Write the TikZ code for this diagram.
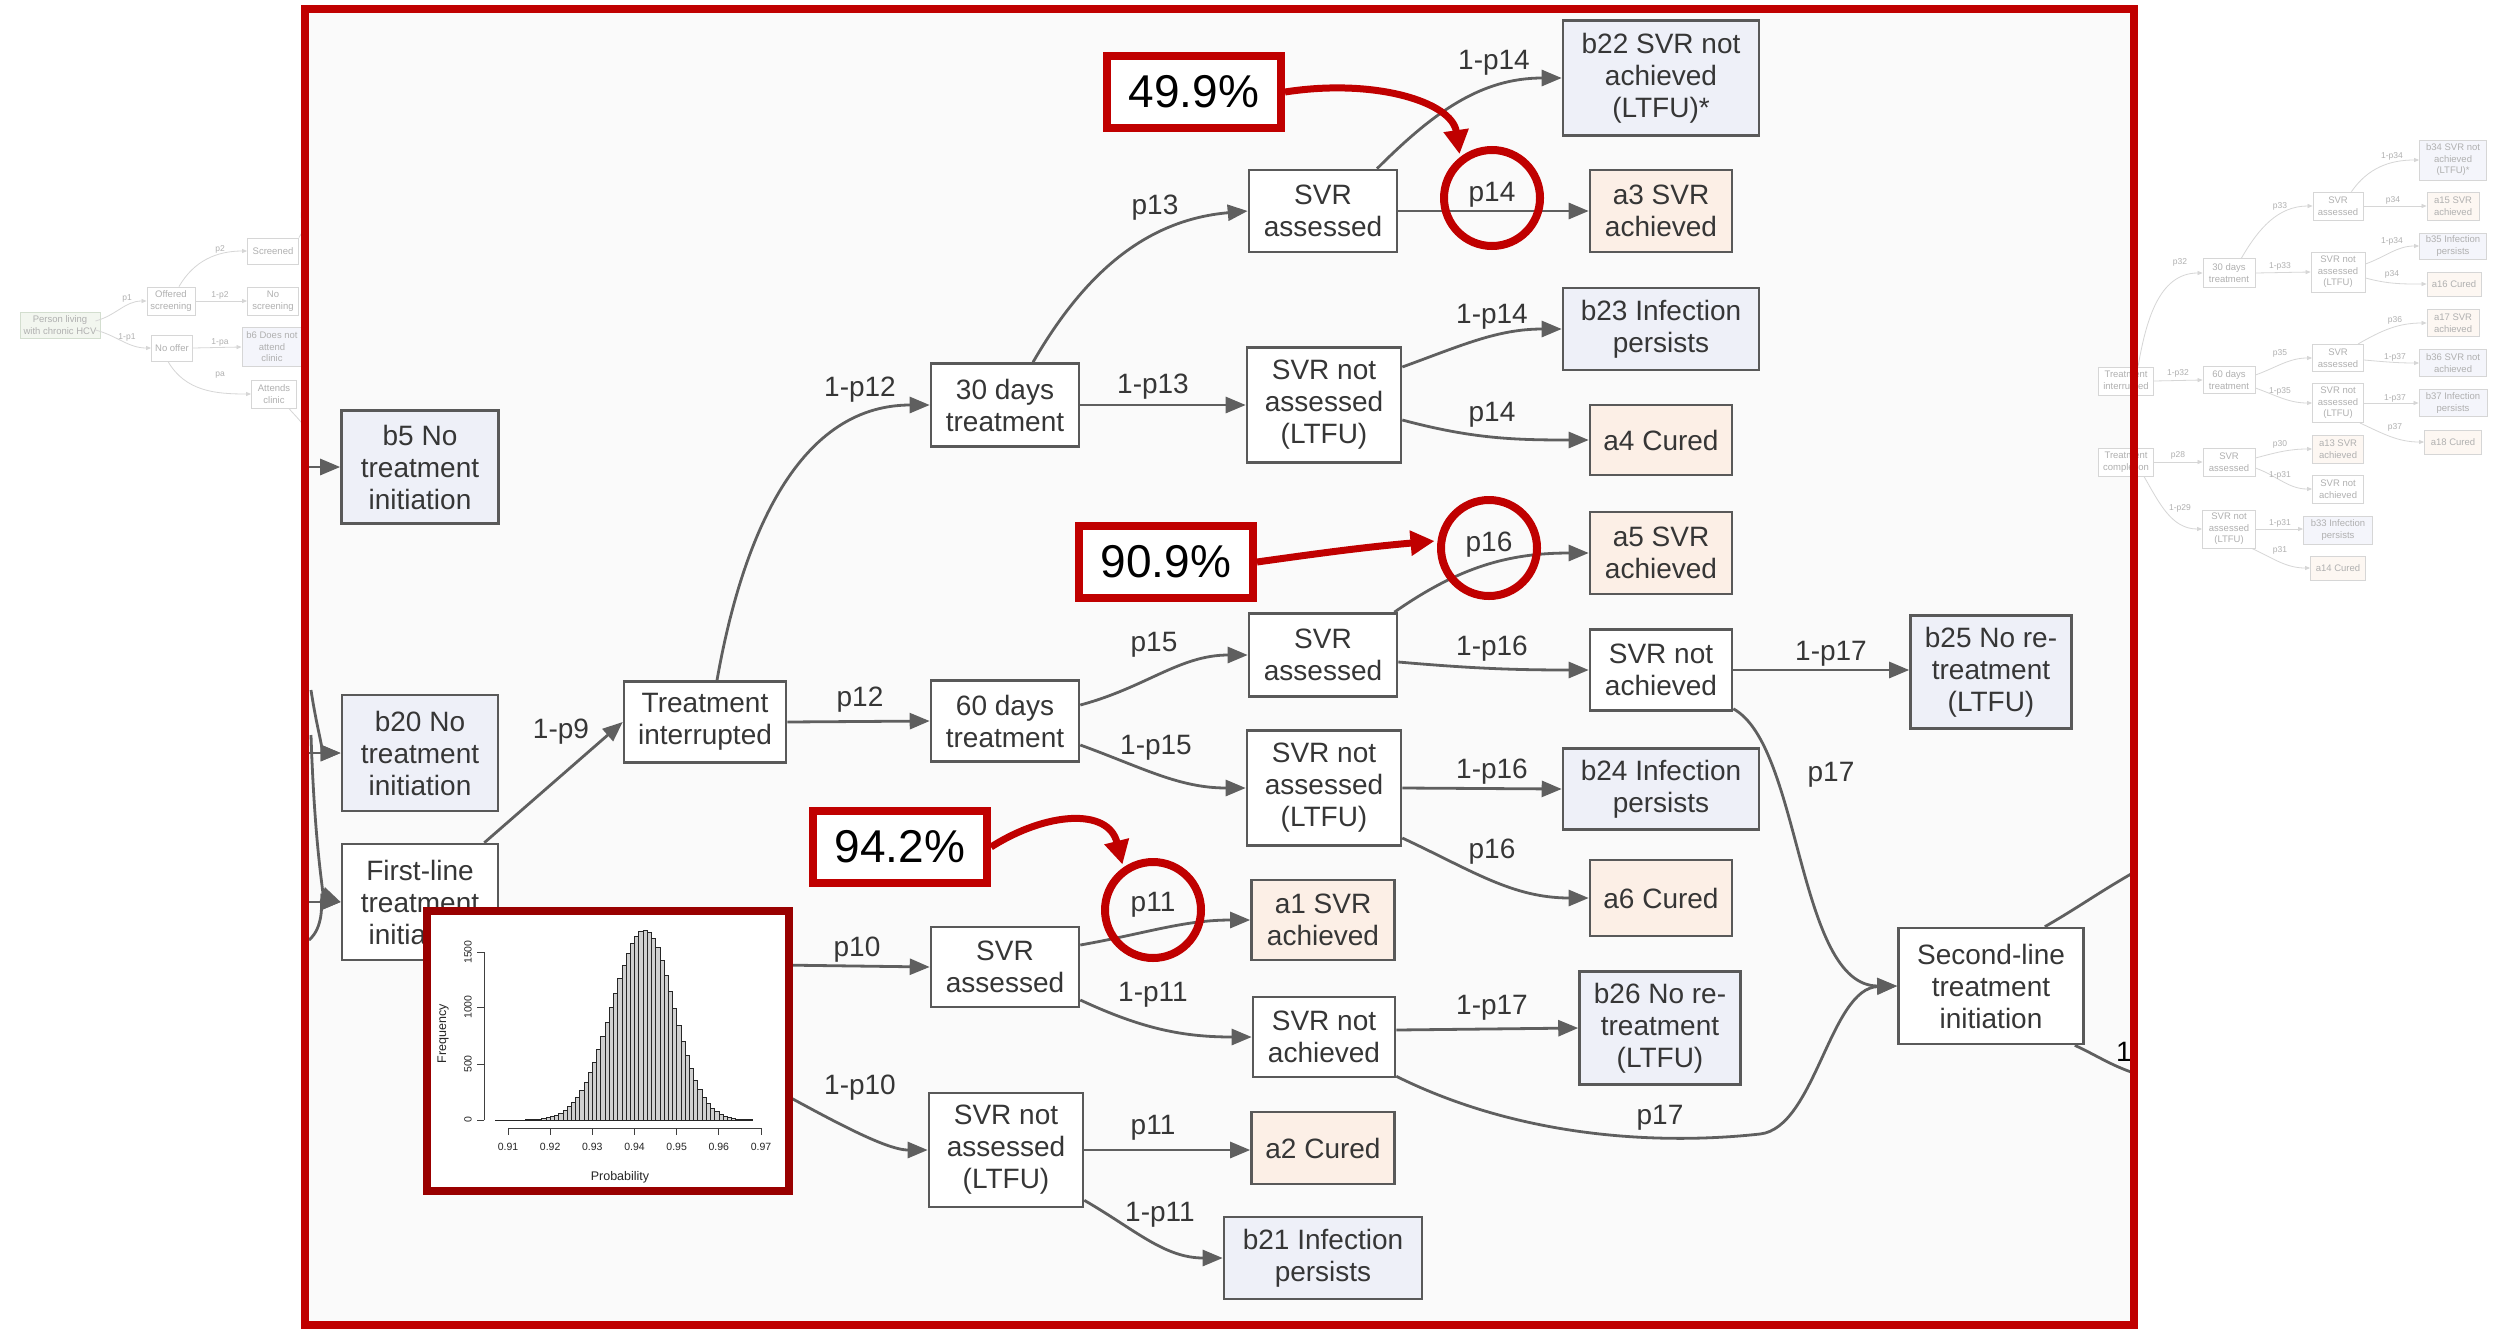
\documentclass[tikz,border=0pt]{standalone}
\usepackage{fontspec}
\setmainfont{Liberation Sans}
\usepackage{tikz}
\usetikzlibrary{arrows.meta,calc,positioning}
\definecolor{focus}{HTML}{C00000}
\definecolor{insetred}{HTML}{990000}
\definecolor{edgegray}{HTML}{5F5F5F}
\definecolor{boxgray}{HTML}{595959}
\definecolor{inkgray}{HTML}{363636}
\definecolor{goodfill}{HTML}{FCEFE6}
\definecolor{badfill}{HTML}{EEF0F8}
\definecolor{paper}{HTML}{FAFAFA}
\definecolor{ghostline}{HTML}{D6D6D6}
\definecolor{ghosttext}{HTML}{B0B0B0}
\definecolor{ghostgood}{HTML}{FDF7F2}
\definecolor{ghostbad}{HTML}{F4F5FB}
\definecolor{ghostroot}{HTML}{F2F6EF}
\definecolor{ghostrootline}{HTML}{D3DECF}
\definecolor{barfill}{HTML}{D0D0D0}

\begin{document}
\begin{tikzpicture}[x=1pt,y=-1pt,
  state/.style={draw=boxgray,line width=2.6pt,fill=white,text=inkgray,align=center,
                font=\fontsize{28}{32}\selectfont,inner sep=2pt},
  good/.style={state,fill=goodfill},
  bad/.style={state,fill=badfill},
  edge/.style={-{Triangle[length=20pt,width=16pt]},line width=2.8pt,edgegray},
  plain/.style={line width=2.8pt,edgegray},
  prob/.style={text=inkgray,font=\fontsize{28}{32}\selectfont,inner sep=0pt},
  hilite/.style={circle,draw=focus,line width=8pt,minimum size=96pt,inner sep=0pt},
  pct/.style={draw=focus,line width=8pt,fill=white,minimum width=174pt,minimum height=72pt,
              font=\fontsize{46}{50}\selectfont,inner sep=0pt},
  pointer/.style={-{Triangle[length=24pt,width=24pt]},line width=7pt,focus,shorten >=3pt},
  ghost/.style={draw=ghostline,line width=0.9pt,fill=white,text=ghosttext,align=center,
                font=\fontsize{9.5}{11.5}\selectfont,inner sep=1pt},
  ghostA/.style={ghost,fill=ghostgood},
  ghostB/.style={ghost,fill=ghostbad},
  gedge/.style={-{Triangle[length=5pt,width=4pt]},line width=0.8pt,ghostline},
  gline/.style={line width=0.8pt,ghostline},
  gprob/.style={text=ghosttext,font=\fontsize{8.5}{10}\selectfont,inner sep=0pt},
  axis/.style={line width=0.9pt,black!75},
  histbar/.style={fill=barfill,draw=black!85,line width=0.6pt},
  ticktext/.style={font=\fontsize{10.5}{12}\selectfont,text=black!85,inner sep=0pt},
  axistitle/.style={font=\fontsize{12.5}{14}\selectfont,text=black!85,inner sep=0pt}
]
\useasboundingbox (0,0) rectangle (2496,1333);
\fill[white] (0,0) rectangle (2496,1333);
\fill[paper] (305,9) rectangle (2134,1325);

% faded overview, left part
\node[ghost,fill=ghostroot,draw=ghostrootline,minimum width=80pt,minimum height=26pt] (person) at (60,325) {Person living\\with chronic HCV};
\node[ghost,minimum width=48pt,minimum height=28pt] (offered) at (171,301) {Offered\\screening};
\node[ghost,minimum width=41pt,minimum height=26pt] (nooffer) at (172,348) {No offer};
\node[ghost,minimum width=51pt,minimum height=26pt] (screened) at (273,251) {Screened};
\node[ghost,minimum width=51pt,minimum height=28pt] (noscreen) at (273,301) {No\\screening};
\node[ghostB,minimum width=60pt,minimum height=39pt] (b6) at (272,347) {b6 Does not\\attend\\clinic};
\node[ghost,minimum width=45pt,minimum height=28pt] (attends) at (274,394) {Attends\\clinic};
\draw[gedge] ($(person.east)+(-5,-4)$) to[out=15,in=180] (offered.west);
\draw[gedge] ($(person.east)+(-5,5)$) to[out=-15,in=180] (nooffer.west);
\draw[gedge] (offered.east) -- (noscreen.west);
\draw[gedge] ([xshift=8pt]offered.north) to[out=60,in=180] (screened.west);
\draw[gedge] (nooffer.east) -- (b6.west);
\draw[gedge] ([xshift=-4pt]nooffer.south) to[out=-60,in=180] (attends.west);
\coordinate (gRunUp) at (304,205);
\coordinate (gRunDown) at (304,426);
\draw[gline] (screened.north east) to[out=50,in=235] (gRunUp);
\draw[gline] ([xshift=-8pt]attends.south east) to[out=-50,in=125] (gRunDown);
\node[gprob] (gl1) at (127,298) {p1};
\node[gprob] (gl2) at (127,337) {1-p1};
\node[gprob] (gl3) at (220,249) {p2};
\node[gprob] (gl4) at (220,295) {1-p2};
\node[gprob] (gl5) at (220,342) {1-pa};
\node[gprob] (gl6) at (220,375) {pa};

% faded overview, right part
\node[ghost,minimum width=55pt,minimum height=28pt] (gInterrupted) at (2126,381) {Treatment\\interrupted};
\node[ghost,minimum width=55pt,minimum height=28pt] (gCompletion) at (2126,462) {Treatment\\completion};
\node[ghost,minimum width=52pt,minimum height=29pt] (gThirty) at (2229,273) {30 days\\treatment};
\node[ghost,minimum width=52pt,minimum height=27pt] (gSixty) at (2229,380) {60 days\\treatment};
\node[ghost,minimum width=52pt,minimum height=28pt] (gAssessedC) at (2229,462) {SVR\\assessed};
\node[ghost,minimum width=53pt,minimum height=38pt] (gLtfuC) at (2229,529) {SVR not\\assessed\\(LTFU)};
\node[ghost,minimum width=50pt,minimum height=28pt] (gAssessedA) at (2338,206) {SVR\\assessed};
\node[ghost,minimum width=54pt,minimum height=40pt] (gLtfuA) at (2338,272) {SVR not\\assessed\\(LTFU)};
\node[ghostB,minimum width=67pt,minimum height=40pt] (b34) at (2453,160) {b34 SVR not\\achieved\\(LTFU)*};
\node[ghostA,minimum width=52pt,minimum height=28pt] (a15) at (2453,206) {a15 SVR\\achieved};
\node[ghostB,minimum width=67pt,minimum height=26pt] (b35) at (2453,246) {b35 Infection\\persists};
\node[ghostA,minimum width=54pt,minimum height=24pt] (a16) at (2454,284) {a16 Cured};
\node[ghost,minimum width=51pt,minimum height=27pt] (gAssessedB) at (2338,358) {SVR\\assessed};
\node[ghost,minimum width=51pt,minimum height=39pt] (gLtfuB) at (2338,403) {SVR not\\assessed\\(LTFU)};
\node[ghostA,minimum width=52pt,minimum height=27pt] (a17) at (2453,323) {a17 SVR\\achieved};
\node[ghostB,minimum width=67pt,minimum height=27pt] (b36) at (2453,363) {b36 SVR not\\achieved};
\node[ghostB,minimum width=68pt,minimum height=27pt] (b37) at (2453,403) {b37 Infection\\persists};
\node[ghostA,minimum width=57pt,minimum height=24pt] (a18) at (2453,442) {a18 Cured};
\node[ghostA,minimum width=51pt,minimum height=28pt] (a13) at (2338,449) {a13 SVR\\achieved};
\node[ghost,minimum width=51pt,minimum height=28pt] (gNotachC) at (2338,489) {SVR not\\achieved};
\node[ghostB,minimum width=69pt,minimum height=28pt] (b33) at (2338,530) {b33 Infection\\persists};
\node[ghostA,minimum width=55pt,minimum height=24pt] (a14) at (2338,568) {a14 Cured};
\draw[gedge] ([xshift=12pt]gInterrupted.north) to[out=80,in=180] (gThirty.west);
\draw[gedge] (gInterrupted.east) -- (gSixty.west);
\draw[gedge] (gCompletion.east) -- (gAssessedC.west);
\draw[gedge] ([xshift=-10pt]gCompletion.south east) to[out=-60,in=180] (gLtfuC.west);
\draw[gedge] ([xshift=-14pt]gThirty.north east) to[out=60,in=180] (gAssessedA.west);
\draw[gedge] (gThirty.east) -- (gLtfuA.west);
\draw[gedge] ([xshift=-12pt]gAssessedA.north east) to[out=55,in=180] (b34.west);
\draw[gedge] (gAssessedA.east) -- (a15.west);
\draw[gedge] ($(gLtfuA.east)+(0,-8)$) to[out=20,in=180] (b35.west);
\draw[gedge] ($(gLtfuA.east)+(0,6)$) to[out=-15,in=180] (a16.west);
\draw[gedge] ($(gSixty.east)+(0,-5)$) to[out=20,in=180] (gAssessedB.west);
\draw[gedge] ($(gSixty.east)+(0,8)$) to[out=-20,in=180] (gLtfuB.west);
\draw[gedge] ([xshift=-6pt]gAssessedB.north east) to[out=30,in=180] (a17.west);
\draw[gedge] ($(gAssessedB.east)+(0,2)$) to[out=-5,in=180] (b36.west);
\draw[gedge] (gLtfuB.east) -- (b37.west);
\draw[gedge] ([xshift=-4pt]gLtfuB.south east) to[out=-25,in=180] (a18.west);
\draw[gedge] ($(gAssessedC.east)+(0,-4)$) to[out=15,in=180] (a13.west);
\draw[gedge] ($(gAssessedC.east)+(0,6)$) to[out=-20,in=180] (gNotachC.west);
\draw[gedge] (gLtfuC.east) -- (gLtfuC.east -| b33.west);
\draw[gedge] ([xshift=-4pt]gLtfuC.south east) to[out=-25,in=180] (a14.west);
\node[gprob] (gl7) at (2180,262) {p32};
\node[gprob] (gl8) at (2178,373) {1-p32};
\node[gprob] (gl9) at (2178,455) {p28};
\node[gprob] (gl10) at (2180,508) {1-p29};
\node[gprob] (gl11) at (2280,206) {p33};
\node[gprob] (gl12) at (2280,266) {1-p33};
\node[gprob] (gl13) at (2392,156) {1-p34};
\node[gprob] (gl14) at (2393,200) {p34};
\node[gprob] (gl15) at (2392,241) {1-p34};
\node[gprob] (gl16) at (2392,274) {p34};
\node[gprob] (gl17) at (2280,353) {p35};
\node[gprob] (gl18) at (2280,391) {1-p35};
\node[gprob] (gl19) at (2395,320) {p36};
\node[gprob] (gl20) at (2395,357) {1-p37};
\node[gprob] (gl21) at (2395,398) {1-p37};
\node[gprob] (gl22) at (2395,427) {p37};
\node[gprob] (gl23) at (2280,444) {p30};
\node[gprob] (gl24) at (2280,475) {1-p31};
\node[gprob] (gl25) at (2280,523) {1-p31};
\node[gprob] (gl26) at (2280,550) {p31};

% zoomed pathway
\node[bad,minimum width=157pt,minimum height=113pt] (noinitA) at (420,467) {b5 No\\treatment\\initiation};
\node[bad,minimum width=156pt,minimum height=116pt] (noinitB) at (420,753) {b20 No\\treatment\\initiation};
\node[state,minimum width=156pt,minimum height=116pt] (firstline) at (420,902) {First-line\\treatment\\initiation};
\node[state,minimum width=162pt,minimum height=81pt] (interrupted) at (705,722) {Treatment\\interrupted};
\node[state,minimum width=148pt,minimum height=83pt] (thirty) at (1005,405) {30 days\\treatment};
\node[state,minimum width=148pt,minimum height=81pt] (sixty) at (1005,721) {60 days\\treatment};
\node[state,minimum width=148pt,minimum height=82pt] (assessedA) at (1323,211) {SVR\\assessed};
\node[state,minimum width=154pt,minimum height=115pt] (ltfuA) at (1324,405) {SVR not\\assessed\\(LTFU)};
\node[bad,minimum width=196pt,minimum height=115pt] (b22) at (1661,78) {b22 SVR not\\achieved\\(LTFU)*};
\node[good,minimum width=142pt,minimum height=82pt] (a3) at (1661,211) {a3 SVR\\achieved};
\node[bad,minimum width=196pt,minimum height=82pt] (b23) at (1661,329) {b23 Infection\\persists};
\node[good,minimum width=142pt,minimum height=70pt] (a4) at (1661,440) {a4 Cured};
\node[good,minimum width=142pt,minimum height=82pt] (a5) at (1661,553) {a5 SVR\\achieved};
\node[state,minimum width=148pt,minimum height=83pt] (assessedB) at (1323,655) {SVR\\assessed};
\node[state,minimum width=142pt,minimum height=81pt] (notachB) at (1661,670) {SVR not\\achieved};
\node[bad,minimum width=161pt,minimum height=113pt] (b25) at (1991,672) {b25 No re-\\treatment\\(LTFU)};
\node[state,minimum width=154pt,minimum height=115pt] (ltfuB) at (1324,788) {SVR not\\assessed\\(LTFU)};
\node[bad,minimum width=196pt,minimum height=81pt] (b24) at (1661,789) {b24 Infection\\persists};
\node[good,minimum width=142pt,minimum height=76pt] (a6) at (1661,898) {a6 Cured};
\node[state,minimum width=148pt,minimum height=80pt] (assessedC) at (1005,967) {SVR\\assessed};
\node[good,minimum width=143pt,minimum height=80pt] (a1) at (1323,920) {a1 SVR\\achieved};
\node[state,minimum width=142pt,minimum height=80pt] (notachC) at (1324,1037) {SVR not\\achieved};
\node[bad,minimum width=161pt,minimum height=113pt] (b26) at (1660,1028) {b26 No re-\\treatment\\(LTFU)};
\node[state,minimum width=154pt,minimum height=114pt] (ltfuC) at (1006,1150) {SVR not\\assessed\\(LTFU)};
\node[good,minimum width=143pt,minimum height=72pt] (a2) at (1323,1148) {a2 Cured};
\node[bad,minimum width=198pt,minimum height=82pt] (b21) at (1323,1258) {b21 Infection\\persists};
\node[state,minimum width=185pt,minimum height=116pt] (secondline) at (1991,986) {Second-line\\treatment\\initiation};

\coordinate (srcB5) at (309,467);
\coordinate (srcB20up) at (311,690);
\coordinate (srcB20) at (309,753);
\coordinate (srcFLup) at (311,735);
\coordinate (srcFL) at (309,902);
\coordinate (srcFLlow) at (309,940);
\coordinate (exitUp) at (2131,874);
\coordinate (exitDown) at (2131,1072);

\draw[edge] (srcB5) -- (noinitA.west);
\draw[edge] (srcB20up) .. controls +(6,40) and +(-16,0) .. (noinitB.west);
\draw[edge] (srcB20) -- (noinitB.west);
\draw[edge] (srcFLup) .. controls +(4,120) and +(-16,-6) .. (firstline.west);
\draw[edge] (srcFL) -- (firstline.west);
\draw[edge] (srcFLlow) to[out=40,in=180] (firstline.west);
\draw[edge] ([xshift=-15pt]firstline.north east) -- (interrupted.west);
\draw[edge] (interrupted.east) -- (sixty.west);
\draw[edge] ([xshift=12pt]interrupted.north) to[out=80,in=180] (thirty.west);
\draw[edge] ([xshift=28pt]thirty.north) to[out=60,in=185] (assessedA.west);
\draw[edge] (thirty.east) -- (ltfuA.west);
\draw[edge] (assessedA.east) -- (a3.west);
\draw[edge] ([xshift=54pt]assessedA.north) to[out=45,in=180] (b22.west);
\draw[edge] ($(ltfuA.east)+(0,-38)$) to[out=20,in=180] (b23.west);
\draw[edge] ($(ltfuA.east)+(0,15)$) to[out=-15,in=180] (a4.west);
\draw[edge] ($(sixty.east)+(0,-16)$) to[out=15,in=180] (assessedB.west);
\draw[edge] ($(sixty.east)+(0,24)$) to[out=-20,in=180] (ltfuB.west);
\draw[edge] ($(assessedB.north east)+(-4,0)$) to[out=35,in=180] (a5.west);
\draw[edge] ($(assessedB.east)+(0,7)$) to[out=-5,in=180] (notachB.west);
\draw[edge] (notachB.east) -- (notachB.east -| b25.west);
\draw[edge] ($(notachB.south east)+(0,-3)$) .. controls +(68,37) and +(-100,0) .. (secondline.west);
\draw[edge] (ltfuB.east) -- (b24.west);
\draw[edge] ($(ltfuB.east)+(0,50)$) to[out=-25,in=180] (a6.west);
\draw[edge] (firstline.south east) -- (assessedC.west);
\draw[edge] (firstline.south east) .. controls +(150,40) and +(-70,0) .. (ltfuC.west);
\draw[edge] ($(assessedC.east)+(0,-22)$) to[out=10,in=180] (a1.west);
\draw[edge] ($(assessedC.east)+(0,33)$) to[out=-25,in=180] (notachC.west);
\draw[edge] ($(notachC.east)+(0,-7)$) -- (b26.west);
\draw[edge] ($(notachC.south east)+(0,-2)$) .. controls +(125,62) and (1660,1145) .. (1760,1134)
            .. controls (1815,1128) and (1830,988) .. (secondline.west);
\draw[edge] (ltfuC.east) -- (ltfuC.east -| a2.west);
\draw[edge] ($(ltfuC.south east)+(0,-8)$) to[out=-30,in=180] (b21.west);
\draw[plain] ([xshift=-40pt]secondline.north east) to[out=30,in=210] (exitUp);
\draw[plain] ([xshift=-10pt]secondline.south east) to[out=-25,in=160] (exitDown);

\node[prob] (lab1) at (561,732) {1-p9};
\node[prob] (lab2) at (860,700) {p12};
\node[prob] (lab3) at (860,390) {1-p12};
\node[prob] (lab4) at (1155,208) {p13};
\node[prob] (lab5) at (1153,387) {1-p13};
\node[prob] (lab6) at (1492,195) {p14};
\node[prob] (lab7) at (1494,63) {1-p14};
\node[prob] (lab8) at (1492,317) {1-p14};
\node[prob] (lab9) at (1492,415) {p14};
\node[prob] (lab10) at (1154,645) {p15};
\node[prob] (lab11) at (1156,748) {1-p15};
\node[prob] (lab12) at (1489,545) {p16};
\node[prob] (lab13) at (1492,649) {1-p16};
\node[prob] (lab14) at (1831,654) {1-p17};
\node[prob] (lab15) at (1831,775) {p17};
\node[prob] (lab16) at (1492,772) {1-p16};
\node[prob] (lab17) at (1492,852) {p16};
\node[prob] (lab18) at (857,950) {p10};
\node[prob] (lab19) at (860,1088) {1-p10};
\node[prob] (lab20) at (1153,905) {p11};
\node[prob] (lab21) at (1153,995) {1-p11};
\node[prob] (lab22) at (1492,1008) {1-p17};
\node[prob] (lab23) at (1660,1118) {p17};
\node[prob] (lab24) at (1153,1128) {p11};
\node[prob] (lab25) at (1160,1215) {1-p11};
\node[prob,text=black] (lab26) at (2124,1052) {1};

% inset histogram
\node[draw=insetred,line width=8pt,fill=white,minimum width=362pt,minimum height=280pt,inner sep=0pt] (inset) at (608,1051) {};
\foreach \i in {0,...,60}{%
  \pgfmathsetmacro\barsd{\i<35 ? 7.8 : 6.8}%
  \pgfmathsetmacro\barz{(\i-35)/\barsd}%
  \pgfmathsetmacro\barh{190*exp(-0.5*(\barz)*(\barz))}%
  \pgfmathsetmacro\barx{508+(\i-3)*4.217}%
  \draw[histbar] (\barx,1120) rectangle ++(4.217,-\barh);
}
\draw[axis] (484,1120) -- (484,952);
\foreach \f/\ty in {0/1120,500/1064,1000/1007,1500/952}{
  \draw[axis] (484,\ty) -- (477,\ty);
  \node[ticktext,rotate=90] (ytick\f) at (468,\ty) {\f};
}
\draw[axis] (508,1128) -- (761,1128);
\foreach \k in {1,...,7}{
  \pgfmathsetmacro\tickx{508+(\k-1)*42.17}
  \draw[axis] (\tickx,1128) -- (\tickx,1135);
  \node[ticktext] (xtick\k) at (\tickx,1147) {0.9\k};
}
\node[axistitle,rotate=90] (freqtitle) at (443,1034) {Frequency};
\node[axistitle] (probtitle) at (620,1177) {Probability};

% highlighted estimates
\node[hilite] (ring14) at (1492,198) {};
\node[hilite] (ring16) at (1489,548) {};
\node[hilite] (ring11) at (1153,910) {};
\node[pct] (share14) at (1194,92) {49.9\%};
\node[pct] (share16) at (1166,562) {90.9\%};
\node[pct] (share11) at (900,847) {94.2\%};
\draw[pointer] (share14.east) .. controls +(90,-14) and +(-8,-55) .. (ring14.128);
\draw[pointer] (share16.east) to[out=8,in=185] (ring16.172);
\draw[pointer] (share11.east) .. controls +(55,-35) and +(-15,-60) .. (ring11.125);

% zoom frame
\draw[focus,line width=8pt] (305,9) rectangle (2134,1325);
\end{tikzpicture}
\end{document}
